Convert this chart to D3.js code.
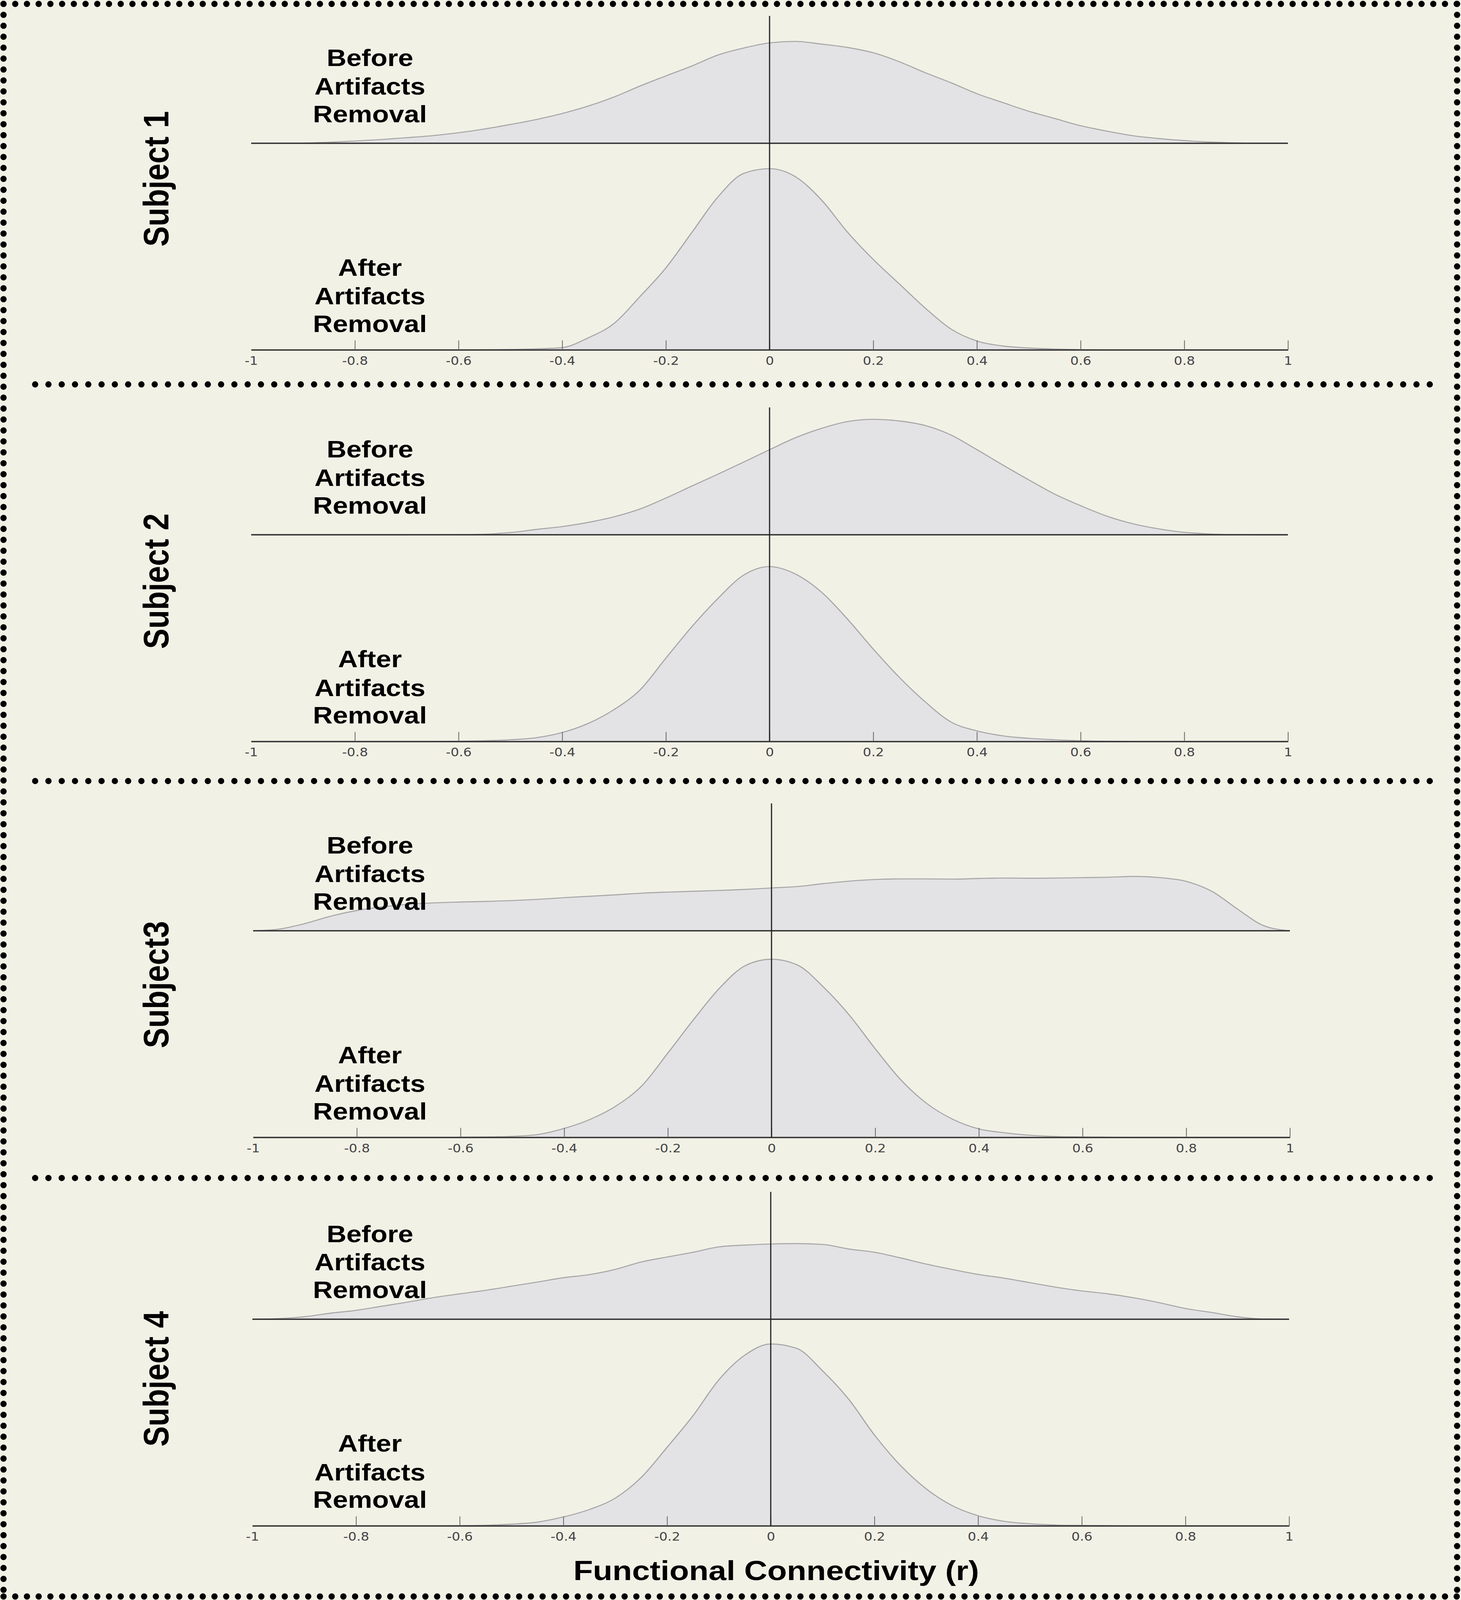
<!DOCTYPE html>
<html>
<head>
<meta charset="utf-8">
<script src="https://cdn.jsdelivr.net/npm/d3@7"></script>
<style>
  html, body { margin: 0; padding: 0; background: #f2f1e6; overflow: hidden; }
  svg { display: block; }
</style>
</head>
<body>
<svg id="chart"></svg>
<script>
// r grid the densities were read at
const grid = [-1,-0.95,-0.9,-0.85,-0.8,-0.75,-0.7,-0.65,-0.6,-0.55,-0.5,-0.45,-0.4,-0.35,-0.3,-0.25,-0.2,-0.15,-0.1,-0.05,
  0,0.05,0.1,0.15,0.2,0.25,0.3,0.35,0.4,0.45,0.5,0.55,0.6,0.65,0.7,0.75,0.8,0.85,0.9,0.95,1];

const subjects = ["Subject 1", "Subject 2", "Subject3", "Subject 4"];
const xTicks = [-1,-0.8,-0.6,-0.4,-0.2,0,0.2,0.4,0.6,0.8,1];

// relative density (percent of band height)
const s1Before = [0,0,0.1,0.5,1.1,1.8,2.7,3.7,5.1,6.9,9.1,11.5,14.4,18.0,22.4,27.7,32.6,37.4,42.7,46.1,48.6,49.3,48.0,46.4,43.8,39.5,34.2,29.3,24.0,19.7,15.5,12.0,8.5,5.9,3.7,2.3,1.3,0.6,0.2,0,0];
const s1After = [0,0,0,0,0,0,0,0,0,0.1,0.2,0.5,1.1,5.8,12.8,25.8,39.7,56.8,73.9,85.4,87.7,83.8,72.6,57.1,43.8,32.0,20.3,10.1,4.3,1.9,0.9,0.4,0.1,0,0,0,0,0,0,0,0];
const s2Before = [0,0,0,0,0,0,0,0.05,0.1,0.3,1.1,2.6,4.0,6.0,8.7,12.5,17.8,23.6,29.3,35.2,41.2,47.0,51.5,54.8,55.9,55.1,52.9,48.3,41.2,33.8,26.6,19.7,14.1,9.1,5.4,2.9,1.2,0.4,0.1,0,0];
const s2After = [0,0,0,0,0,0,0,0,0.1,0.3,0.8,1.8,4.3,8.7,15.4,24.9,40.3,55.5,69.1,80.5,84.6,81.0,72.3,59.3,44.7,31.1,19.2,9.4,5.1,2.7,1.5,0.8,0.3,0.1,0,0,0,0,0,0,0];
const s3Before = [0,0.8,3.5,7.1,9.8,11.6,12.8,13.5,13.9,14.2,14.6,15.2,16.0,16.7,17.4,18.2,18.7,19.1,19.5,20.0,20.7,21.4,22.8,24.0,24.8,25.1,25.1,25.0,25.3,25.5,25.4,25.5,25.7,25.9,26.3,25.7,23.9,19.0,10.3,2.4,0];
const s3After = [0,0,0,0,0,0,0,0,0.1,0.2,0.5,1.4,4.3,8.7,15.2,25.0,40.8,57.1,72.3,83.2,86.2,83.4,72.8,59.2,42.9,27.7,16.3,8.7,4.1,2.2,1.0,0.4,0.2,0.1,0,0,0,0,0,0,0];
const s4Before = [0,0.3,1.2,2.9,4.3,6.3,8.3,10.5,12.3,14.0,16.0,18.0,20.1,21.6,24.1,27.7,30.1,32.4,35.0,35.9,36.4,36.6,36.2,34.0,32.4,29.7,26.7,24.1,21.7,19.9,17.7,15.5,13.7,12.3,10.4,8.0,5.2,3.3,1.2,0.1,0];
const s4After = [0,0,0,0,0,0,0,0,0.1,0.3,0.8,1.8,4.3,7.9,13.4,23.4,38.0,53.3,70.7,82.6,88.0,85.9,75.0,61.4,44.0,29.3,17.9,9.8,4.9,2.2,1.0,0.4,0.2,0.1,0,0,0,0,0,0,0];

const before = [s1Before, s2Before, s3Before, s4Before];
const after = [s1After, s2After, s3After, s4After];

// layout in figure pixels (3740 x 4724). the visible window can be
// shorter than that, so the whole figure is squeezed vertically by k
const W = 3740, H = 4724;
const k = Math.min(1, (window.innerHeight || H) / H);
const Hs = Math.floor(H * k);

const axisY = [1033, 2189, 3358, 4505];
const labelY = [528, 1716, 2907, 4071];
const xShift = [0, 0, 5, 3];
const bandH = 610;
const sepY = [1135, 2306, 3478];
const bold = "'Liberation Sans', Arial, Helvetica, sans-serif";

const svg = d3.select("#chart").attr("width", W).attr("height", Hs);
svg.append("rect").attr("width", W).attr("height", Hs).attr("fill", "#f2f1e6");

const fig = svg.append("g").attr("transform", `scale(1,${k})`);

const y = d3.scaleLinear().domain([0, 100]).range([0, bandH]);

function drawDensity(g, xs, values, base) {
  const pts = grid.map((r, i) => [r, values[i]]);
  const area = d3.area()
    .x(d => xs(d[0])).y0(base).y1(d => base - y(d[1]))
    .curve(d3.curveMonotoneX);
  const line = d3.line()
    .x(d => xs(d[0])).y(d => base - y(d[1]))
    .curve(d3.curveMonotoneX);
  g.append("path").attr("d", area(pts)).attr("fill", "#e3e3e6");
  g.append("path").attr("d", line(pts))
    .attr("fill", "none").attr("stroke", "#a6a6a6").attr("stroke-width", 3);
}

subjects.forEach((name, p) => {
  const g = fig.append("g");
  const xs = d3.scaleLinear().domain([-1, 1]).range([643 + xShift[p], 3297 + xShift[p]]);
  const ax = axisY[p];
  const bb = ax - bandH;

  drawDensity(g, xs, before[p], bb);
  drawDensity(g, xs, after[p], ax);

  // baseline of the "before" density
  g.append("line")
    .attr("x1", xs(-1)).attr("x2", xs(1)).attr("y1", bb).attr("y2", bb)
    .attr("stroke", "#333").attr("stroke-width", 4);

  // x axis, ticks pointing up, labels below
  const axis = d3.axisBottom(xs)
    .tickValues(xTicks)
    .tickSizeInner(-28).tickSizeOuter(0).tickPadding(20)
    .tickFormat(d => String(+d.toFixed(1)));
  const ag = g.append("g").attr("transform", `translate(0,${ax})`).call(axis);
  ag.select(".domain").attr("stroke", "#333").attr("stroke-width", 4);
  ag.selectAll(".tick line").attr("stroke", "#666").attr("stroke-width", 2)
    .filter(d => d === -1).remove();
  ag.selectAll(".tick text")
    .attr("fill", "#444").attr("font-size", 34)
    .attr("font-family", "'DejaVu Sans', sans-serif");

  // zero line
  g.append("line")
    .attr("x1", xs(0)).attr("x2", xs(0)).attr("y1", ax - 986).attr("y2", ax)
    .attr("stroke", "#222").attr("stroke-width", 3);

  // labels
  const lab = (lines, base) => lines.forEach((t, i) => {
    g.append("text").attr("x", 947).attr("y", base[i]).text(t)
      .attr("text-anchor", "middle").attr("font-family", bold)
      .attr("font-weight", "bold").attr("font-size", 70).attr("fill", "#000");
  });
  lab(["Before", "Artifacts", "Removal"], [bb - 228, bb - 144, bb - 62]);
  lab(["After", "Artifacts", "Removal"], [ax - 219, ax - 134, ax - 53]);

  g.append("text")
    .attr("transform", `translate(431,${labelY[p]}) rotate(-90)`)
    .attr("text-anchor", "middle").attr("font-family", bold)
    .attr("font-weight", "bold").attr("font-size", 90).text(name);
});

fig.append("text")
  .attr("x", 1987).attr("y", 4665).attr("text-anchor", "middle")
  .attr("font-family", bold).attr("font-weight", "bold").attr("font-size", 82)
  .text("Functional Connectivity (r)");

// dotted frame and separators (kept round, outside the squeeze)
const dots = (x1, y1, x2, y2, gap) => svg.append("line")
  .attr("x1", x1).attr("y1", y1).attr("x2", x2).attr("y2", y2)
  .attr("stroke", "#000").attr("stroke-width", 16)
  .attr("stroke-linecap", "round").attr("stroke-dasharray", `0 ${gap}`);

const bottom = Hs - 9;
dots(9, 10, 3730, 10, 30);
dots(9, bottom, 3730, bottom, 30);
dots(9, 10, 9, bottom, 28);
dots(3730, 10, 3730, bottom, 28);
sepY.forEach(s => dots(90, s * k, 3667, s * k, 34));
</script>
</body>
</html>
